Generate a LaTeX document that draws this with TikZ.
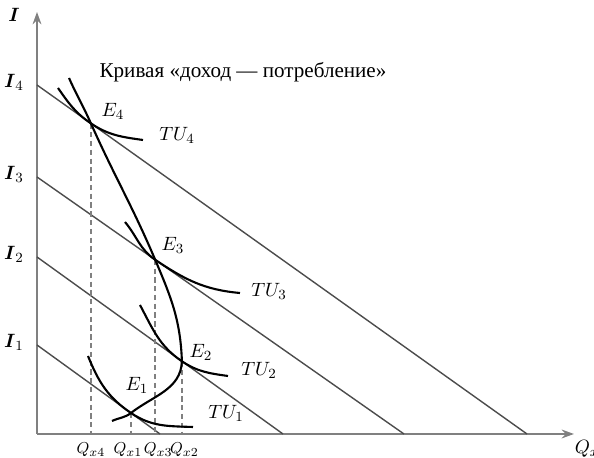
\documentclass[tikz,border=0pt]{standalone}
\usepackage{amsmath,amssymb}
\usepackage{fontspec}
\setmainfont{Liberation Serif}
\usepackage{tikz}
\usetikzlibrary{arrows.meta,calc}

\begin{document}
\begin{tikzpicture}[
  axis/.style={draw=black!50,line width=1.1pt,-{Stealth[length=7pt,width=5pt]}},
  budget/.style={draw=black!70,line width=0.8pt},
  tucurve/.style={line width=1.2pt},
  guide/.style={draw=black!50,line width=0.9pt,dash pattern=on 3pt off 2pt},
  lab/.style={font=\fontsize{11}{13}\selectfont,inner sep=1pt},
  qlab/.style={font=\fontsize{9.5}{11}\selectfont,inner sep=0pt}
]
\useasboundingbox (-0.74,-0.48) rectangle (11.14,8.68);
% axes
\coordinate (O) at (0,0);
\coordinate (ytop) at (0,8.44);
\coordinate (xend) at (10.74,0);
\draw[axis] (O) -- (ytop);
\draw[axis] (O) -- (xend);
\node[lab] (ylab) at (-0.46,8.38) {$\boldsymbol{I}$};
\node[lab] (xlab) at (11.0,-0.3) {$Q_x$};
\node[font=\rmfamily\fontsize{12}{14}\selectfont] (title) at (4.12,7.24) {Кривая «доход — потребление»};

% budget lines
\coordinate (I4) at (0,6.98);  \coordinate (I4e) at (9.8,0);
\coordinate (I3) at (0,5.14);  \coordinate (I3e) at (7.34,0);
\coordinate (I2) at (0,3.54);  \coordinate (I2e) at (4.92,0);
\coordinate (I1) at (0,1.78);  \coordinate (I1e) at (2.46,0);
\foreach \k in {1,...,4} {
  \draw[budget] (I\k) -- (I\k e);
  \node[lab] (lI\k) at ($(I\k)+(-0.46,0.05)$) {$\boldsymbol{I}_{\k}$};
}

% equilibrium points
\coordinate (E4) at ($(I4)!0.110!(I4e)$);
\coordinate (E3) at ($(I3)!0.322!(I3e)$);
\coordinate (E2) at ($(I2)!0.589!(I2e)$);
\coordinate (E1) at ($(I1)!0.764!(I1e)$);
\node[lab] (lE4) at (1.52,6.46) {$E_4$};
\node[lab] (lE3) at (2.72,3.78) {$E_3$};
\node[lab] (lE2) at (3.28,1.64) {$E_2$};
\node[lab] (lE1) at (2.0,0.98) {$E_1$};

% dashed guides
\foreach \k/\q/\dx in {4/x4/0,3/x3/0.06,2/x2/0.05,1/x1/-0.06} {
  \coordinate (Q\k) at (E\k |- O);
  \draw[guide] (E\k) -- (Q\k);
  \node[qlab] (lQ\k) at ($(Q\k)+(\dx,-0.32)$) {$Q_{\q}$};
}

% indifference curves
\draw[tucurve] (0.42,6.92) to[out=-55,in=146] (E4) to[out=-34,in=172] (2.12,5.88);
\draw[tucurve] (1.76,4.24) to[out=-50,in=146] (E3) to[out=-34,in=175] (4.06,2.82);
\draw[tucurve] (2.06,2.58) to[out=-62,in=146] (E2) to[out=-34,in=172] (3.82,1.16);
\draw[tucurve] (1.02,1.56) to[out=-68,in=146] (E1) to[out=-34,in=178] (3.12,0.14);
\node[lab] (lTU4) at (2.8,5.98) {$TU_4$};
\node[lab] (lTU3) at (4.64,2.86) {$TU_3$};
\node[lab] (lTU2) at (4.44,1.28) {$TU_2$};
\node[lab] (lTU1) at (3.78,0.42) {$TU_1$};

% income-consumption curve
\draw[tucurve] (0.64,7.12) to[out=-66,in=114] (E4) to[out=-66,in=113] (E3)
  to[out=-67,in=92] (E2) to[out=-92,in=38] (E1) to[out=218,in=25] (1.5,0.26);
\end{tikzpicture}
\end{document}
